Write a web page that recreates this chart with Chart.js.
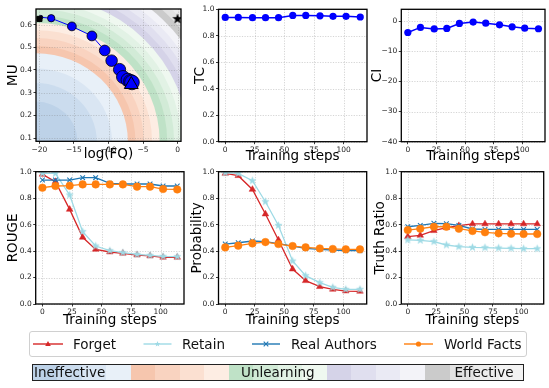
<!DOCTYPE html>
<html><head><meta charset="utf-8">
<script src="https://cdn.jsdelivr.net/npm/chart.js@4.4.1/dist/chart.umd.min.js"></script>
<style>
html,body{margin:0;padding:0;background:#fff;}
body{position:relative;width:549px;height:388px;overflow:hidden;font-family:"DejaVu Sans",sans-serif;}
canvas{position:absolute;}
.lg{position:absolute;font-size:13.5px;line-height:16px;color:#111;white-space:nowrap;}
#legendBox{position:absolute;left:28.5px;top:331px;width:498px;height:26px;border:1px solid #d0d0d0;border-radius:3px;box-sizing:border-box;background:#fff;}
#legendSvg{position:absolute;left:0;top:0;}
#cbar{position:absolute;left:31.5px;top:363.5px;width:492.5px;height:17.5px;border:1px solid #222;box-sizing:border-box;display:flex;}
#cbar div{flex:1 1 0;height:100%;}
.cbt{position:absolute;top:363.5px;height:17.5px;line-height:17.5px;font-size:13.5px;color:#111;white-space:nowrap;}
</style></head><body>
<canvas id="c1"></canvas><canvas id="c2"></canvas><canvas id="c3"></canvas>
<canvas id="c4"></canvas><canvas id="c5"></canvas><canvas id="c6"></canvas>
<div id="legendBox"></div>
<svg id="legendSvg" width="549" height="388"></svg>
<div id="cbar"></div>
<script>
// ---------------- data ----------------
const steps = [0, 11, 23, 34, 45, 57, 68, 80, 91, 102, 114];
const logFQ = [-19.8, -18.3, -15.3, -12.4, -10.55, -9.55, -8.4, -7.9, -7.2, -6.8, -6.6];
const muValues = [0.632, 0.628, 0.592, 0.550, 0.486, 0.441, 0.402, 0.369, 0.356, 0.349, 0.345];
const originPoint = [-20, 0.625];
const targetPoint = [0, 0.625];
const finalPoint = [-6.7, 0.336];
const tcValues = [0.939, 0.939, 0.937, 0.937, 0.937, 0.954, 0.954, 0.951, 0.947, 0.947, 0.942];
const ciValues = [-3.8, -2.1, -2.6, -2.45, -0.8, -0.35, -0.7, -1.25, -1.9, -2.35, -2.55];
const seriesNames = ['Forget', 'Retain', 'Real Authors', 'World Facts'];
const rougeForget = [0.980, 0.925, 0.715, 0.504, 0.413, 0.393, 0.383, 0.370, 0.363, 0.353, 0.353];
const rougeRetain = [0.987, 0.987, 0.824, 0.547, 0.438, 0.403, 0.388, 0.375, 0.368, 0.360, 0.358];
const rougeReal   = [0.937, 0.937, 0.937, 0.955, 0.955, 0.912, 0.907, 0.907, 0.907, 0.892, 0.892];
const rougeWorld  = [0.879, 0.892, 0.894, 0.904, 0.904, 0.904, 0.904, 0.887, 0.887, 0.869, 0.866];
const probForget = [0.987, 0.970, 0.866, 0.680, 0.484, 0.264, 0.176, 0.131, 0.111, 0.098, 0.096];
const probRetain = [0.992, 0.987, 0.932, 0.773, 0.594, 0.325, 0.214, 0.161, 0.126, 0.111, 0.111];
const probReal   = [0.453, 0.463, 0.476, 0.471, 0.456, 0.438, 0.420, 0.413, 0.408, 0.403, 0.403];
const probWorld  = [0.428, 0.441, 0.458, 0.468, 0.453, 0.438, 0.428, 0.420, 0.416, 0.413, 0.413];
const trForget = [0.509, 0.519, 0.554, 0.577, 0.592, 0.605, 0.605, 0.605, 0.605, 0.605, 0.605];
const trRetain = [0.484, 0.481, 0.471, 0.446, 0.433, 0.428, 0.426, 0.423, 0.421, 0.418, 0.418];
const trReal   = [0.584, 0.594, 0.610, 0.607, 0.594, 0.567, 0.564, 0.564, 0.564, 0.564, 0.564];
const trWorld  = [0.559, 0.569, 0.584, 0.584, 0.569, 0.552, 0.542, 0.534, 0.531, 0.529, 0.529];
const stepTicks = [0, 25, 50, 75, 100];
const unitTicks = [0, 0.2, 0.4, 0.6, 0.8, 1.0];
const ciTicks = [-40, -30, -20, -10, 0];
const fqTicks = [-20, -15, -10, -5, 0];
const muTicks = [0.1, 0.2, 0.3, 0.4, 0.5, 0.6];
const scaleLabels = ['Ineffective', 'Unlearning', 'Effective'];

// ---------------- styles ----------------
const RED = '#d62728', CYAN = '#9edae5', BLUE = '#1f77b4', ORANGE = '#ff7f0e';
const zoneColors = [
  '#bdd2e8', '#cbdcee', '#dae6f3', '#e8f0f8',
  '#f6c6ae', '#f9d3c0', '#fbe0d1', '#fdede3',
  '#bfe2c7', '#d2ebd7', '#e2f2e5', '#eff8f0',
  '#d5d3e8', '#e0dfef', '#eaeaf4', '#f3f3f8',
  '#cbcbcb', '#e2e2e2', '#ececec', '#f3f3f3'];
const levelEdges = [0.30, 0.44, 0.55, 0.665, 0.72, 0.78, 0.84, 0.895, 0.95, 1.0, 1.05, 1.10, 1.15, 1.20, 1.25, 1.30, 1.35, 1.40, 1.45];
const KX = 1.05;

function starImg(r, fill, stroke, lw) {
  const s = Math.ceil(r * 2 + 3);
  const c = document.createElement('canvas'); c.width = s; c.height = s;
  const g = c.getContext('2d');
  g.beginPath();
  for (let i = 0; i < 10; i++) {
    const a = -Math.PI / 2 + i * Math.PI / 5, rr = i % 2 === 0 ? r : r * 0.42;
    g.lineTo(s / 2 + rr * Math.cos(a), s / 2 + rr * Math.sin(a));
  }
  g.closePath(); g.fillStyle = fill; g.fill();
  if (stroke) { g.strokeStyle = stroke; g.lineWidth = lw; g.stroke(); }
  return c;
}

const framePlugin = { id: 'frame', afterDraw(chart) {
  const a = chart.chartArea, c = chart.ctx;
  c.save(); c.strokeStyle = '#000'; c.lineWidth = 1.3;
  c.strokeRect(a.left, a.top, a.right - a.left, a.bottom - a.top); c.restore();
}};
const gridPlugin = { id: 'dgrid', beforeDatasetsDraw(chart) {
  const {ctx, chartArea: a, scales} = chart;
  ctx.save(); ctx.strokeStyle = 'rgba(120,120,120,0.45)'; ctx.lineWidth = 0.7; ctx.setLineDash([1.2, 1.4]);
  for (const s of [scales.x, scales.y]) {
    for (const t of s.ticks) {
      const p = Math.round(s.getPixelForValue(t.value)) + 0.5;
      ctx.beginPath();
      if (s.isHorizontal()) { ctx.moveTo(p, a.top); ctx.lineTo(p, a.bottom); }
      else { ctx.moveTo(a.left, p); ctx.lineTo(a.right, p); }
      ctx.stroke();
    }
  }
  ctx.restore();
}};
const contourPlugin = { id: 'contour', beforeDraw(chart) {
  const {ctx, chartArea: a} = chart;
  const W = a.right - a.left, H = a.bottom - a.top;
  ctx.save(); ctx.beginPath(); ctx.rect(a.left, a.top, W, H); ctx.clip();
  ctx.fillStyle = zoneColors[zoneColors.length - 1]; ctx.fillRect(a.left, a.top, W, H);
  for (let i = levelEdges.length - 1; i >= 0; i--) {
    const r = levelEdges[i];
    ctx.beginPath(); ctx.ellipse(a.left, a.bottom, r * W / KX, r * H, 0, 0, Math.PI * 2);
    ctx.fillStyle = zoneColors[i]; ctx.fill();
  }
  ctx.restore();
}};

const minus = v => (v < 0 ? '\u2212' + Math.abs(v) : String(v));
function axis(kind, s, size) {
  return {
    type: 'linear', position: kind === 'x' ? 'bottom' : 'left', min: s.min, max: s.max,
    afterBuildTicks: sc => { sc.ticks = s.ticks.map(v => ({value: v})); },
    afterFit: sc => { if (kind === 'x') sc.height = size; else sc.width = size; },
    grid: {drawOnChartArea: false, drawTicks: true, tickLength: 2.5, tickWidth: 0.9, tickColor: '#222'},
    border: {display: false},
    ticks: {font: {size: 7.5, family: 'DejaVu Sans'}, color: '#222', padding: 1.5, maxRotation: 0, minRotation: 0, autoSkip: false, callback: v => s.fmt(v)},
    title: {display: true, text: s.title, font: {size: 13.5, family: 'DejaVu Sans', lineHeight: 1.2}, color: '#000', padding: {top: s.pad, bottom: s.pad}}
  };
}
function makeChart(id, box, area, datasets, xs, ys, extra) {
  const cv = document.getElementById(id);
  cv.width = box.w; cv.height = box.h;
  cv.style.left = box.x + 'px'; cv.style.top = box.y + 'px';
  cv.style.width = box.w + 'px'; cv.style.height = box.h + 'px';
  return new Chart(cv, {
    type: 'scatter', data: {datasets},
    options: {
      responsive: false, animation: false, devicePixelRatio: 1,
      layout: {padding: {left: 0, top: area.T - box.y, right: box.x + box.w - area.R, bottom: 0}},
      plugins: {legend: {display: false}, tooltip: {enabled: false}},
      scales: {x: axis('x', xs, box.y + box.h - area.B), y: axis('y', ys, area.L - box.x)}
    },
    plugins: [...(extra || []), gridPlugin, framePlugin]
  });
}
const xy = vals => vals.map((v, i) => ({x: steps[i], y: v}));
const retainStar = starImg(3.8, CYAN, CYAN, 0.5);
function fourSeries(f, r, ra, w) {
  return [
    {label: seriesNames[3], data: xy(w), showLine: true, borderColor: ORANGE, backgroundColor: ORANGE, borderWidth: 1.3, pointStyle: 'circle', pointRadius: 3.8, pointBorderWidth: 0.5, order: 1},
    {label: seriesNames[2], data: xy(ra), showLine: true, borderColor: BLUE, backgroundColor: BLUE, borderWidth: 1.3, pointStyle: 'crossRot', pointRadius: 3.3, pointBorderWidth: 1.1, order: 2},
    {label: seriesNames[1], data: xy(r), showLine: true, borderColor: CYAN, backgroundColor: CYAN, borderWidth: 1.3, pointStyle: retainStar, pointRadius: 4, order: 3},
    {label: seriesNames[0], data: xy(f), showLine: true, borderColor: RED, backgroundColor: RED, borderWidth: 1.3, pointStyle: 'triangle', pointRadius: 3.8, pointBorderWidth: 0.5, order: 4}
  ];
}
const stepAxis = pad => ({min: -5.7, max: 119.7, ticks: stepTicks, fmt: v => String(v), title: 'Training steps', pad});
const unitAxis = (t, pad) => ({min: 0, max: 1, ticks: unitTicks, fmt: v => v.toFixed(1), title: t, pad});

// ---- panel 1 : MU vs log(FQ) ----
makeChart('c1', {x: 0, y: 0, w: 190, h: 166}, {L: 36, T: 8, R: 182.7, B: 141.3}, [
  {data: [{x: targetPoint[0], y: targetPoint[1]}], pointStyle: starImg(5.5, '#000'), pointRadius: 6, order: 0},
  {data: [{x: originPoint[0], y: originPoint[1]}], pointStyle: 'rect', pointRadius: 3.6, backgroundColor: '#000', borderColor: '#000', order: 1},
  {data: [{x: finalPoint[0], y: finalPoint[1]}], pointStyle: 'triangle', pointRadius: 8, backgroundColor: '#0000ff', borderColor: '#000', pointBorderWidth: 1, order: 2},
  {data: logFQ.map((v, i) => ({x: v, y: muValues[i]})), showLine: true, borderColor: '#0000ff', borderWidth: 1,
   backgroundColor: '#0000ff', pointBorderColor: '#000', pointBorderWidth: 0.8,
   pointRadius: steps.map(s => 2 + 0.5 * Math.sqrt(s)), order: 3}
], {min: -20.5, max: 0.5, ticks: fqTicks, fmt: minus, title: 'log(FQ)', pad: 3.9},
   {min: 0.0856, max: 0.6687, ticks: muTicks, fmt: v => v.toFixed(1), title: 'MU', pad: 5.4}, [contourPlugin]);

// ---- panel 2 : TC ----
makeChart('c2', {x: 183, y: 0, w: 189, h: 166}, {L: 218.5, T: 9.3, R: 367, B: 141.7}, [
  {data: xy(tcValues), showLine: true, borderColor: '#0000ff', backgroundColor: '#0000ff', borderWidth: 1.5, pointRadius: 3.6, pointBorderWidth: 0}
], stepAxis(1.2), unitAxis('TC', 9.7));

// ---- panel 3 : CI ----
makeChart('c3', {x: 365, y: 0, w: 184, h: 166}, {L: 401.3, T: 9.3, R: 547.3, B: 141.7}, [
  {data: xy(ciValues), showLine: true, borderColor: '#0000ff', backgroundColor: '#0000ff', borderWidth: 1.5, pointRadius: 3.6, pointBorderWidth: 0}
], stepAxis(1.2), {min: -40, max: 3.9, ticks: ciTicks, fmt: minus, title: 'CI', pad: 3.9});

// ---- bottom row ----
makeChart('c4', {x: 0, y: 162, w: 190, h: 168}, {L: 35.7, T: 171.7, R: 184, B: 304},
  fourSeries(rougeForget, rougeRetain, rougeReal, rougeWorld), stepAxis(1.9), unitAxis('ROUGE', 5.2));
makeChart('c5', {x: 183, y: 162, w: 189, h: 168}, {L: 218.5, T: 171.7, R: 367, B: 304},
  fourSeries(probForget, probRetain, probReal, probWorld), stepAxis(1.9), unitAxis('Probability', 6.4));
makeChart('c6', {x: 365, y: 162, w: 184, h: 168}, {L: 401.3, T: 171.7, R: 547.3, B: 304},
  fourSeries(trForget, trRetain, trReal, trWorld), stepAxis(1.9), unitAxis('Truth Ratio', 6.9));

// ---- legend ----
const NS = 'http://www.w3.org/2000/svg';
const svg = document.getElementById('legendSvg');
function el(tag, attrs) { const e = document.createElementNS(NS, tag); for (const k in attrs) e.setAttribute(k, attrs[k]); svg.appendChild(e); return e; }
const legColors = [RED, CYAN, BLUE, ORANGE];
const legPos = [{x0: 33, x1: 63, tx: 73}, {x0: 143.5, x1: 171.5, tx: 182}, {x0: 252, x1: 280, tx: 291}, {x0: 404, x1: 433, tx: 444}];
const ly = 344;
seriesNames.forEach((name, i) => {
  const p = legPos[i], c = legColors[i], cx = (p.x0 + p.x1) / 2;
  el('line', {x1: p.x0, y1: ly, x2: p.x1, y2: ly, stroke: c, 'stroke-width': 1.4});
  if (i === 0) el('polygon', {points: `${cx},${ly - 3} ${cx - 2.8},${ly + 2} ${cx + 2.8},${ly + 2}`, fill: c});
  if (i === 1) {
    let pts = [];
    for (let k = 0; k < 10; k++) { const a = -Math.PI / 2 + k * Math.PI / 5, rr = k % 2 === 0 ? 3 : 1.3; pts.push((cx + rr * Math.cos(a)).toFixed(2) + ',' + (ly + rr * Math.sin(a)).toFixed(2)); }
    el('polygon', {points: pts.join(' '), fill: c});
  }
  if (i === 2) { el('path', {d: `M${cx - 2.3},${ly - 2.3}L${cx + 2.3},${ly + 2.3}M${cx - 2.3},${ly + 2.3}L${cx + 2.3},${ly - 2.3}`, stroke: c, 'stroke-width': 1.1}); }
  if (i === 3) el('circle', {cx: cx, cy: ly, r: 2.6, fill: c});
  const t = document.createElement('div'); t.className = 'lg'; t.textContent = name;
  t.style.left = p.tx + 'px'; t.style.top = (ly - 8.5) + 'px';
  document.body.appendChild(t);
});

// ---- colour scale bar ----
const cbar = document.getElementById('cbar');
zoneColors.forEach(c => { const d = document.createElement('div'); d.style.background = c; cbar.appendChild(d); });
const cbPos = [{left: 34}, {center: 277.8}, {right: 513.5}];
scaleLabels.forEach((txt, i) => {
  const d = document.createElement('div'); d.className = 'cbt'; d.textContent = txt;
  document.body.appendChild(d);
  const w = d.getBoundingClientRect().width;
  const p = cbPos[i];
  d.style.left = (p.left !== undefined ? p.left : p.center !== undefined ? p.center - w / 2 : p.right - w) + 'px';
});
</script>
</body></html>
